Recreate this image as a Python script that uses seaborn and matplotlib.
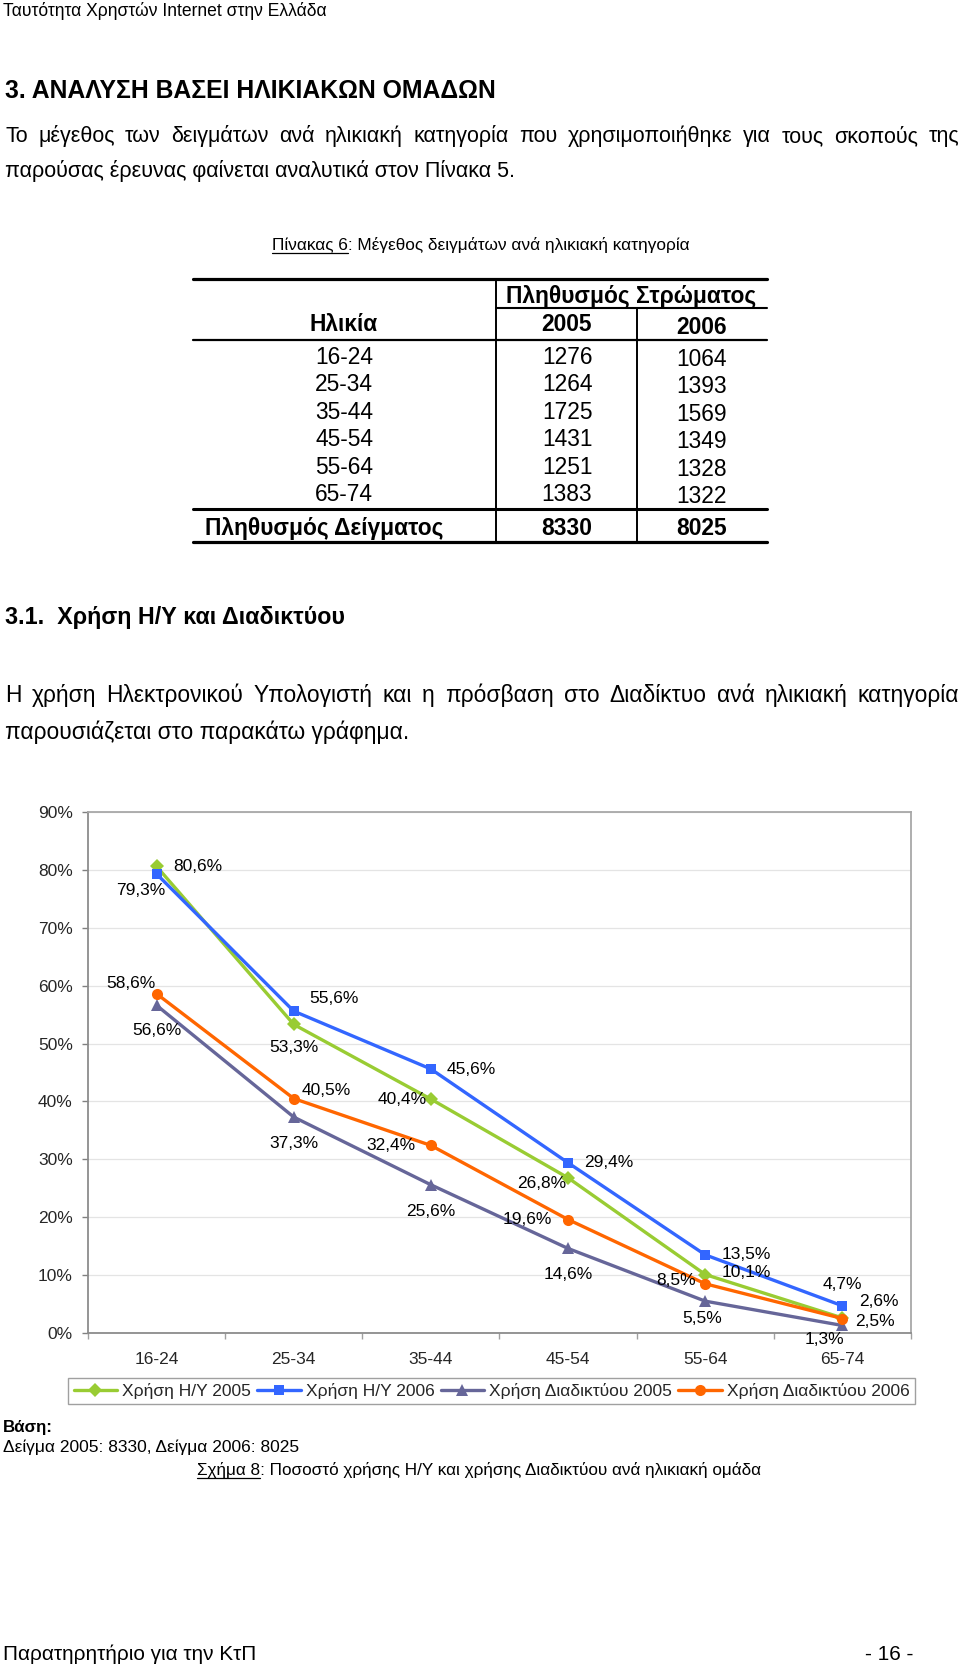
import matplotlib
matplotlib.use("Agg")
import matplotlib.pyplot as plt
import seaborn as sns
import numpy as np
import pandas as pd
from matplotlib.lines import Line2D

# ---------------- data ----------------
age_groups = ["16-24", "25-34", "35-44", "45-54", "55-64", "65-74"]
sample_2005 = [1276, 1264, 1725, 1431, 1251, 1383]
sample_2006 = [1064, 1393, 1569, 1349, 1328, 1322]

pc_2005 = [80.6, 53.3, 40.4, 26.8, 10.1, 2.6]
pc_2006 = [79.3, 55.6, 45.6, 29.4, 13.5, 4.7]
net_2005 = [56.6, 37.3, 25.6, 14.6, 5.5, 1.3]
net_2006 = [58.6, 40.5, 32.4, 19.6, 8.5, 2.5]
series_names = ["Χρήση Η/Υ 2005", "Χρήση Η/Υ 2006",
                "Χρήση Διαδικτύου 2005", "Χρήση Διαδικτύου 2006"]
y_tick_values = [0, 10, 20, 30, 40, 50, 60, 70, 80, 90]

# ---------------- styles ----------------
colors = ["#99CC33", "#3366FF", "#666699", "#FF6600"]
markers = ["D", "s", "^", "o"]
msizes = [7.5, 7.5, 8.5, 8]
# label offsets in pixels (dx right, dy down)
label_offsets = [
    [(41, 0), (0, 23), (-29, 0), (-26, 6), (41, -2), (36, -16)],
    [(-16, 17), (40, -13), (40, 0), (41, 0), (41, 0), (0, -21)],
    [(0, 25), (0, 26), (0, 27), (0, 26), (-3, 17), (-18, 14)],
    [(-26, -10), (32, -8), (-40, 0), (-41, 0), (-29, -3), (33, 3)],
]

sns.set_theme(style="white")
plt.rcParams["font.family"] = ["Liberation Sans", "DejaVu Sans"]

W, H = 960, 1666
fig = plt.figure(figsize=(W / 100, H / 100), dpi=100)
R = fig.canvas.get_renderer()


def fx(x):
    return x / W


def fy(y):
    return 1 - y / H


def width_of(s, fs, weight="normal"):
    t = fig.text(0, 0, s, fontsize=fs, fontweight=weight)
    w = t.get_window_extent(renderer=R).width
    t.remove()
    return w


def fit_size(s, target, weight="normal"):
    return 10 * target / width_of(s, 10, weight)


def put(x, y, s, fs, weight="normal", ha="left"):
    # y is the visual centre of the line; place text on its baseline
    base = y + 0.34 * fs * 100 / 72
    return fig.text(fx(x), fy(base), s, fontsize=fs, fontweight=weight,
                    ha=ha, va="baseline", color="black")


def hline(x0, x1, y, lw, color="black"):
    fig.add_artist(Line2D([fx(x0), fx(x1)], [fy(y), fy(y)], lw=lw,
                          color=color, transform=fig.transFigure))


def vline(x, y0, y1, lw, color="black"):
    fig.add_artist(Line2D([fx(x), fx(x)], [fy(y0), fy(y1)], lw=lw,
                          color=color, transform=fig.transFigure))


def justify(x0, x1, y, s, fs, weight="normal"):
    words = s.split()
    ws = [width_of(w, fs, weight) for w in words]
    gap = (x1 - x0 - sum(ws)) / (len(words) - 1)
    x = x0
    for w, wd in zip(words, ws):
        put(x, y, w, fs, weight)
        x += wd + gap


def fitted(x0, x1, y, s, weight="normal", underline_prefix=None, fs=None):
    if fs is None:
        fs = fit_size(s, x1 - x0, weight)
    put(x0, y, s, fs, weight)
    if underline_prefix:
        wp = width_of(underline_prefix, fs, weight)
        hline(x0, x0 + wp, y + 0.52 * fs * 100 / 72, 0.9)
    return fs


# ---------------- page text ----------------
fs_head = fitted(3, 329, 10, "Ταυτότητα Χρηστών Internet στην Ελλάδα")
fitted(5, 494, 90, "3. ΑΝΑΛΥΣΗ ΒΑΣΕΙ ΗΛΙΚΙΑΚΩΝ ΟΜΑΔΩΝ", weight="bold")
fs_p = fit_size("παρούσας έρευνας φαίνεται αναλυτικά στον Πίνακα 5.", 513)
justify(5, 959, 135, "Το μέγεθος των δειγμάτων ανά ηλικιακή κατηγορία που "
        "χρησιμοποιήθηκε για τους σκοπούς της", fs_p)
put(5, 170, "παρούσας έρευνας φαίνεται αναλυτικά στον Πίνακα 5.", fs_p)
fitted(272, 688, 244, "Πίνακας 6: Μέγεθος δειγμάτων ανά ηλικιακή κατηγορία",
       underline_prefix="Πίνακας 6")

# ---------------- table ----------------
fs_t = fit_size("Πληθυσμός Δείγματος", 238, "bold")
c1, c2, c3 = 344, 567, 702
put(631, 295, "Πληθυσμός Στρώματος", fs_t, "bold", ha="center")
put(c1, 323, "Ηλικία", fs_t, "bold", ha="center")
put(c2, 323, "2005", fs_t, "bold", ha="center")
put(c3, 326, "2006", fs_t, "bold", ha="center")
for i, (a, n5, n6) in enumerate(zip(age_groups, sample_2005, sample_2006)):
    yy = 356 + 27.5 * i
    put(c1, yy, a, fs_t, ha="center")
    put(c2, yy, str(n5), fs_t, ha="center")
    put(c3, yy + 2, str(n6), fs_t, ha="center")
put(324, 527, "Πληθυσμός Δείγματος", fs_t, "bold", ha="center")
put(c2, 527, str(sum(sample_2005)), fs_t, "bold", ha="center")
put(c3, 527, str(sum(sample_2006)), fs_t, "bold", ha="center")
hline(193, 767, 279, 2.3)
hline(496, 767, 308, 1.5)
hline(193, 767, 340, 1.6)
hline(193, 767, 509, 2.2)
hline(193, 767, 542, 2.3)
vline(496, 279, 542, 1.4)
vline(637, 308, 542, 1.4)

fitted(5, 343, 616, "3.1.  Χρήση Η/Υ και Διαδικτύου", weight="bold")
fs_p2 = fit_size("παρουσιάζεται στο παρακάτω γράφημα.", 404)
justify(5, 959, 694, "Η χρήση Ηλεκτρονικού Υπολογιστή και η πρόσβαση στο "
        "Διαδίκτυο ανά ηλικιακή κατηγορία", fs_p2)
put(5, 731, "παρουσιάζεται στο παρακάτω γράφημα.", fs_p2)

# ---------------- chart ----------------
ax = fig.add_axes([fx(88), fy(1333), (911 - 88) / W, (1333 - 812) / H])
all_series = [pc_2005, pc_2006, net_2005, net_2006]
for vals, name, col, mk, ms in zip(all_series, series_names, colors,
                                   markers, msizes):
    sns.lineplot(x=age_groups, y=vals, ax=ax, color=col, marker=mk,
                 markersize=ms, markeredgewidth=0, linewidth=2.4,
                 label=name, sort=False)

for vals, offs in zip(all_series, label_offsets):
    for i, (v, (dx, dy)) in enumerate(zip(vals, offs)):
        ax.annotate(f"{v:.1f}".replace(".", ",") + "%", (i, v),
                    xytext=(dx, -dy), textcoords="offset pixels",
                    ha="center", va="center", fontsize=12.5, color="black")

ax.set_xlim(-0.5, 5.5)
ax.set_ylim(0, 90)
ax.set_yticks(y_tick_values)
ax.set_yticklabels([f"{v}%" for v in y_tick_values])
ax.set_xticks(range(len(age_groups)))
ax.set_xticklabels(age_groups)
ax.set_xticks(np.arange(-0.5, 6, 1), minor=True)
ax.set_xlabel("")
ax.set_ylabel("")
ax.yaxis.grid(True, color="#E4E4E4", lw=0.9)
ax.xaxis.grid(False)
ax.set_axisbelow(True)
ax.tick_params(axis="y", left=True, length=4, width=1, color="#808080",
               pad=7, labelsize=12.5, direction="out")
ax.tick_params(axis="x", which="major", bottom=True, length=0, pad=14,
               labelsize=12.5)
ax.tick_params(axis="x", which="minor", bottom=True, length=4, width=1,
               color="#A0A0A0", direction="out")
for side, sp in ax.spines.items():
    sp.set_visible(True)
    sp.set_linewidth(1.3)
    sp.set_color("#8C8C8C" if side in ("left", "bottom") else "#A8A8A8")

ax.legend(loc="center", bbox_to_anchor=(fx(491.5), fy(1391)),
          bbox_transform=fig.transFigure, ncol=4, fontsize=12.5,
          frameon=True, fancybox=False, edgecolor="#A0A0A0",
          framealpha=1, handlelength=2.5, handletextpad=0.3,
          columnspacing=0.35, borderpad=0.3, borderaxespad=0)

# ---------------- bottom text ----------------
fitted(3, 53, 1426, "Βάση:", weight="bold")
fitted(3, 300, 1446, "Δείγμα 2005: 8330, Δείγμα 2006: 8025")
fitted(197, 762, 1469,
       "Σχήμα 8: Ποσοστό χρήσης Η/Υ και χρήσης Διαδικτύου ανά ηλικιακή ομάδα",
       underline_prefix="Σχήμα 8")
fitted(3, 285, 1653, "Παρατηρητήριο για την ΚτΠ", fs=fs_head * 1.18)
fitted(865, 903, 1653, "- 16 -", fs=fs_head * 1.18)

fig.savefig("out.png", dpi=100)
